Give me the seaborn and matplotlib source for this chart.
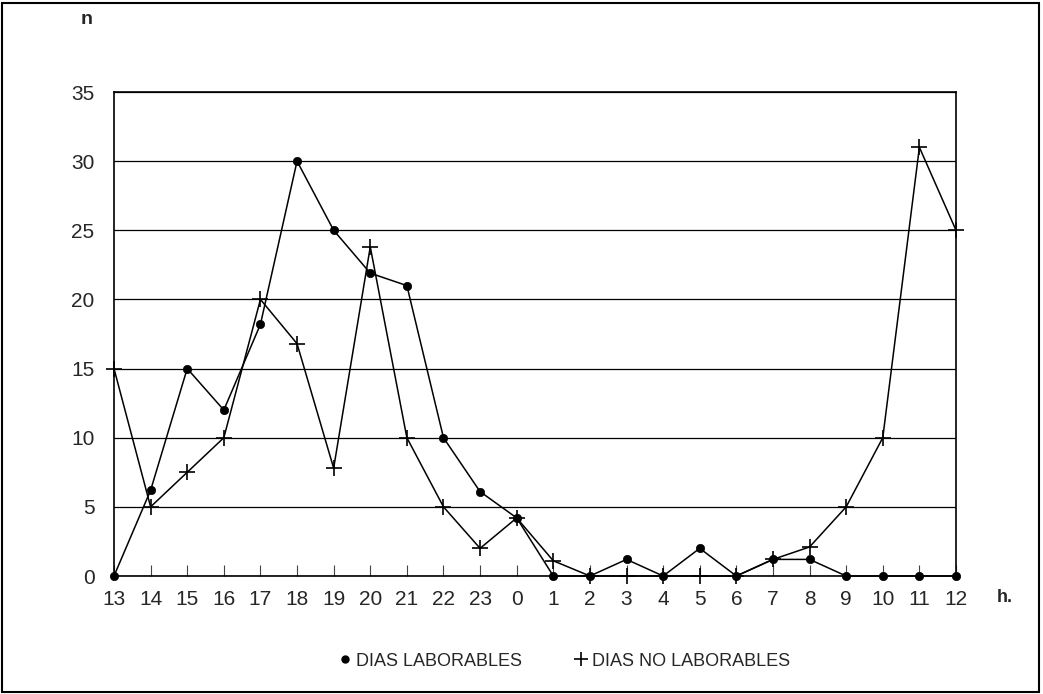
import matplotlib
matplotlib.use("Agg")
import matplotlib.pyplot as plt
import seaborn as sns
import pandas as pd
import numpy as np
from matplotlib.lines import Line2D
from matplotlib.patches import Rectangle

hours = ["13", "14", "15", "16", "17", "18", "19", "20", "21", "22", "23", "0",
         "1", "2", "3", "4", "5", "6", "7", "8", "9", "10", "11", "12"]
laborables = [0, 6.2, 15, 12, 18.2, 30, 25, 21.9, 21, 10, 6.1, 4.2,
              0, 0, 1.2, 0, 2.0, 0, 1.2, 1.2, 0, 0, 0, 0]
no_laborables = [15, 5, 7.5, 10, 20, 16.8, 7.8, 23.8, 10, 5, 2.0, 4.2,
                 1.1, 0, 0, 0, 0, 0, 1.2, 2.1, 5, 10, 31.0, 25]
y_ticks = [0, 5, 10, 15, 20, 25, 30, 35]

sns.set_theme(style="white")
plt.rcParams['font.family'] = ['Liberation Sans', 'DejaVu Sans']

df = pd.DataFrame({"pos": np.arange(len(hours)),
                   "lab": laborables, "nolab": no_laborables})

fig = plt.figure(figsize=(10.43, 6.94), dpi=100)
ax = fig.add_axes([114/1043, 1 - 576/694, (956-114)/1043, (576-92)/694])

sns.lineplot(data=df, x="pos", y="lab", ax=ax, color="black", lw=1.1,
             marker="o", markersize=6, markeredgewidth=0.5,
             markeredgecolor="black", markerfacecolor="black",
             clip_on=False, zorder=5)
sns.lineplot(data=df, x="pos", y="nolab", ax=ax, color="black", lw=1.1,
             marker="+", markersize=12, markeredgewidth=1.2,
             markeredgecolor="black", clip_on=False, zorder=5)

ax.set_xlim(0, len(hours) - 1)
ax.set_ylim(0, 35)
ax.set_yticks(y_ticks)
ax.set_xticks(np.arange(len(hours)))
ax.set_xticklabels(hours)
ax.yaxis.grid(True, color="black", lw=0.9)
ax.xaxis.grid(False)
for s in ax.spines.values():
    s.set_color("black")
    s.set_linewidth(1.2)
ax.tick_params(axis="x", direction="in", length=8, width=0.8, color="#444444",
               labelsize=15, pad=10, bottom=True)
ax.tick_params(axis="y", length=0, labelsize=15, pad=14)
ax.set_xlabel("")
ax.set_ylabel("")

fig.text(87/1043, 1 - 20/694, "n", fontsize=14, fontweight="bold",
         ha="center", va="center")
fig.text(1005/1043, 1 - 598/694, "h.", fontsize=13, fontweight="bold",
         ha="center", va="center")

handles = [Line2D([], [], color="black", marker="o", ls="", markersize=5),
           Line2D([], [], color="black", marker="+", ls="", markersize=10,
                  markeredgewidth=1.2)]
fig.legend(handles, ["DIAS LABORABLES", "DIAS NO LABORABLES"],
           loc="center", bbox_to_anchor=(565/1043, 1 - 661/694), ncol=2,
           frameon=False, fontsize=13, handlelength=0.6, handletextpad=0.3,
           columnspacing=3.0)

fig.patches.append(Rectangle((2/1043, 2/694), 1037/1043, 689/694,
                             transform=fig.transFigure, fill=False,
                             edgecolor="black", lw=1.5))

fig.savefig("out.png", dpi=100, facecolor="white")
